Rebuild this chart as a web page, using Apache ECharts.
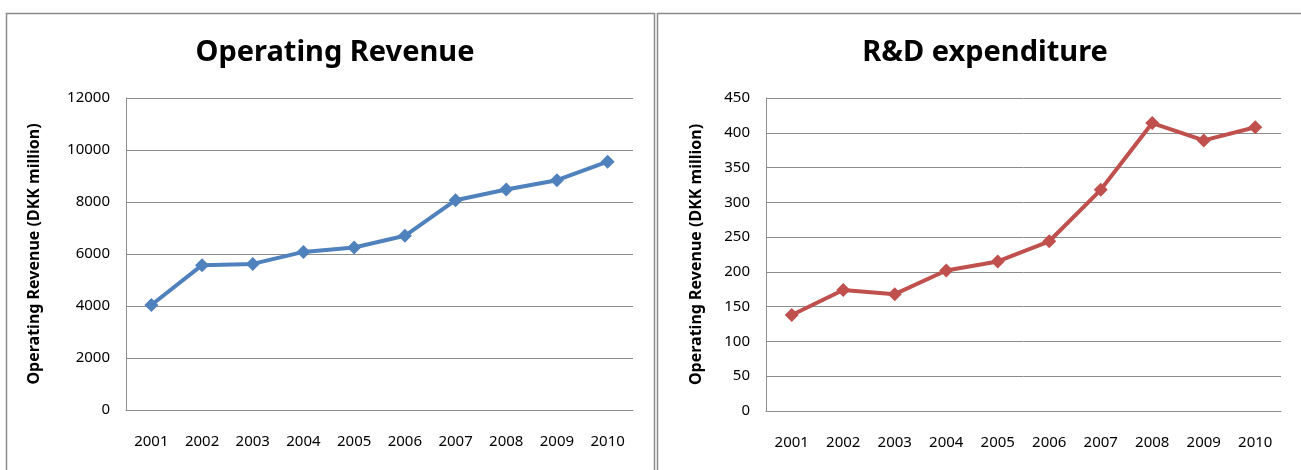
<!DOCTYPE html>
<html>
<head>
<meta charset="utf-8">
<script src="https://cdn.jsdelivr.net/npm/echarts@6/dist/echarts.min.js"></script>
<style>
  html, body { margin: 0; padding: 0; background: #fff; }
  #chart { width: 1301px; height: 470px; }
</style>
</head>
<body>
<div id="chart"></div>
<script>
// 年份
var years = ['2001', '2002', '2003', '2004', '2005', '2006', '2007', '2008', '2009', '2010'];
// 营业收入 (DKK million)
var revenue = [4040, 5570, 5620, 6080, 6250, 6700, 8070, 8480, 8840, 9550];
// 研发支出
var rdSpend = [138, 174, 168, 202, 215, 244, 318, 414, 389, 408];

var font = "'Noto Sans', sans-serif";
var gridColor = '#8c8c8c';

function yAxis(gridIndex, max, interval) {
  return {
    gridIndex: gridIndex,
    type: 'value',
    min: 0,
    max: max,
    interval: interval,
    name: 'Operating Revenue (DKK million)',
    nameLocation: 'middle',
    nameGap: gridIndex === 0 ? 84 : 62,
    nameTextStyle: { fontFamily: font, fontWeight: 'bold', fontSize: 16, color: '#000' },
    axisLine: { show: true, lineStyle: { color: gridColor, width: 1 } },
    axisTick: { show: false },
    axisLabel: {
      fontFamily: font, fontSize: 15, color: '#000', margin: 16,
      formatter: function (v) { return String(v); } // 不要千分位
    },
    splitLine: { lineStyle: { color: gridColor, width: 1 } }
  };
}

function xAxis(gridIndex) {
  return {
    gridIndex: gridIndex,
    type: 'category',
    data: years,
    boundaryGap: true,
    axisLine: { show: true, lineStyle: { color: gridColor, width: 1 } },
    axisTick: { show: false },
    axisLabel: { fontFamily: font, fontSize: 15, color: '#000', margin: 24, interval: 0 }
  };
}

function lineSeries(idx, data, color) {
  return {
    type: 'line',
    xAxisIndex: idx,
    yAxisIndex: idx,
    data: data,
    symbol: 'diamond',
    symbolSize: 14,
    lineStyle: { color: color, width: 4 },
    itemStyle: { color: color },
    animation: false
  };
}

var chart = echarts.init(document.getElementById('chart'));
chart.setOption({
  animation: false,
  title: [
    { text: 'Operating Revenue', left: 330, top: 33, textAlign: 'center',
      textStyle: { fontFamily: font, fontWeight: 'bold', fontSize: 29, color: '#000' } },
    { text: 'R&D expenditure', left: 980, top: 33, textAlign: 'center',
      textStyle: { fontFamily: font, fontWeight: 'bold', fontSize: 29, color: '#000' } }
  ],
  graphic: [
    { type: 'rect', shape: { x: 6.5, y: 13.5, width: 648, height: 470 },
      style: { fill: null, stroke: '#8a8a8a', lineWidth: 1.5 }, silent: true },
    { type: 'rect', shape: { x: 657.5, y: 13.5, width: 660, height: 470 },
      style: { fill: null, stroke: '#8a8a8a', lineWidth: 1.5 }, silent: true }
  ],
  grid: [
    { left: 126, top: 98, width: 507, height: 312 },
    { left: 766, top: 98, width: 515, height: 313 }
  ],
  xAxis: [xAxis(0), xAxis(1)],
  yAxis: [yAxis(0, 12000, 2000), yAxis(1, 450, 50)],
  series: [
    lineSeries(0, revenue, '#4f81bd'),
    lineSeries(1, rdSpend, '#c0504d')
  ]
});
</script>
</body>
</html>
